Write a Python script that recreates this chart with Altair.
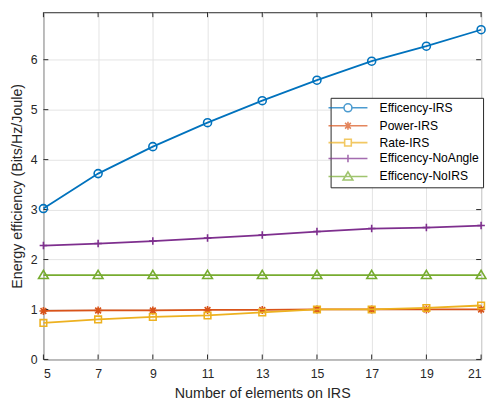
import altair as alt
import pandas as pd

# ---------------- data ----------------
n_elements = [5, 7, 9, 11, 13, 15, 17, 19, 21]
eff_irs = [3.02, 3.72, 4.26, 4.74, 5.18, 5.59, 5.97, 6.27, 6.60]
power_irs = [0.97, 0.98, 0.98, 0.99, 0.99, 1.00, 1.00, 1.00, 1.00]
rate_irs = [0.73, 0.80, 0.85, 0.88, 0.94, 1.00, 1.00, 1.03, 1.08]
eff_noangle = [2.28, 2.32, 2.37, 2.43, 2.49, 2.56, 2.62, 2.64, 2.68]
eff_noirs = [1.69, 1.69, 1.69, 1.69, 1.69, 1.69, 1.69, 1.69, 1.69]

series_names = ["Efficency-IRS", "Power-IRS", "Rate-IRS",
                "Efficency-NoAngle", "Efficency-NoIRS"]
series_values = [eff_irs, power_irs, rate_irs, eff_noangle, eff_noirs]
series_colors = ["#0072BD", "#D95319", "#EDB120", "#7E2F8E", "#77AC30"]

x_ticks = [5, 7, 9, 11, 13, 15, 17, 19, 21]
y_ticks = [0, 1, 2, 3, 4, 5, 6]

# ---------------- marker shapes ----------------
circle = "M0.9,0A0.9,0.9 0 1,1 -0.9,0A0.9,0.9 0 1,1 0.9,0Z"
asterisk = "M-0.9,0H0.9M0,-0.9V0.9M-0.65,-0.65L0.65,0.65M-0.65,0.65L0.65,-0.65"
square = "M-0.75,-0.75H0.75V0.75H-0.75Z"
plus = "M-0.85,0H0.85M0,-0.85V0.85"
triangle = "M0,-1.05L1.1,0.8H-1.1Z"
marker_paths = [circle, asterisk, square, plus, triangle]
legend_paths = [
    "M-4.4,0H-0.9M0.9,0H4.4" + circle,
    "M-4.4,0H4.4" + asterisk,
    "M-4.4,0H-0.75M0.75,0H4.4" + square,
    "M-4.4,0H4.4" + plus,
    "M-4.4,0H4.4" + triangle,
]

rows = []
for name, vals in zip(series_names, series_values):
    for xv, yv in zip(n_elements, vals):
        rows.append({"N": xv, "EE": yv, "series": name})
df = pd.DataFrame(rows)

xt_df = pd.DataFrame({"N": x_ticks})
yt_df = pd.DataFrame({"EE": y_ticks})

W, H = 445, 353
FONT = "Liberation Sans"
DARK = "#262626"

xscale = alt.Scale(domain=[5, 21], nice=False, zero=False)
yscale = alt.Scale(domain=[0, 6.95], nice=False)

x_axis = alt.Axis(values=x_ticks, title="Number of elements on IRS", grid=True,
                  tickSize=0, domain=False, labelPadding=8, labelFontSize=12.5,
                  titleFontSize=14.5, titleY=35, titleBaseline="middle")
y_axis = alt.Axis(values=y_ticks, title="Energy efficiency (Bits/Hz/Joule)", grid=True,
                  tickSize=0, domain=False, labelPadding=6.5, labelFontSize=12.5,
                  titleFontSize=14.5, titleX=-26, titleY=H / 2, titleAngle=-90,
                  titleAlign="center", titleBaseline="middle")

X = alt.X("N:Q", scale=xscale, axis=x_axis)
Y = alt.Y("EE:Q", scale=yscale, axis=y_axis)

base = alt.Chart(df)

# empty layer providing the legend
legend_kw = dict(title=None, orient="none", legendX=292, legendY=87,
                 symbolSize=81, symbolStrokeWidth=1.6, symbolOffset=7.5,
                 labelOffset=26, labelFontSize=12.3, labelFont=FONT,
                 labelColor="#000000", padding=4, rowPadding=2.2,
                 strokeColor=DARK, fillColor="#ffffff")
legend_layer = base.mark_point(filled=False, strokeWidth=1.6, size=81).encode(
    x=X, y=Y,
    color=alt.Color("series:N", scale=alt.Scale(domain=series_names, range=series_colors),
                    legend=alt.Legend(**legend_kw)),
    shape=alt.Shape("series:N", scale=alt.Scale(domain=series_names, range=legend_paths),
                    legend=alt.Legend(**legend_kw)),
).transform_filter("false")

layers = []
for name, col, path in zip(series_names, series_colors, marker_paths):
    sub = base.transform_filter(alt.datum.series == name)
    line = sub.mark_line(color=col, strokeWidth=1.8).encode(x=X, y=Y)
    pts = sub.mark_point(shape=path, color=col, filled=False, strokeWidth=1.6, size=81,
                         opacity=1).encode(x=X, y=Y)
    layers += [line, pts]

# inward tick marks on all four sides
tx = alt.Chart(xt_df)
ty = alt.Chart(yt_df)
tick_layers = [
    tx.mark_rule(color=DARK, strokeWidth=1).encode(x=X, y=alt.value(H), y2=alt.value(H - 5)),
    tx.mark_rule(color=DARK, strokeWidth=1).encode(x=X, y=alt.value(0), y2=alt.value(5)),
    ty.mark_rule(color=DARK, strokeWidth=1).encode(y=Y, x=alt.value(0), x2=alt.value(5)),
    ty.mark_rule(color=DARK, strokeWidth=1).encode(y=Y, x=alt.value(W), x2=alt.value(W - 5)),
]

chart = alt.layer(*tick_layers, *layers, legend_layer).properties(
    width=W, height=H,
    autosize=alt.AutoSizeParams(type="none"),
    padding={"left": 36, "top": 1, "right": 6, "bottom": 43},
    background="#ffffff",
).configure_view(
    stroke=DARK, strokeWidth=1,
).configure_axis(
    labelFont=FONT, titleFont=FONT, labelColor=DARK, titleColor=DARK,
    titleFontWeight="normal", gridColor="#e3e3e3", gridWidth=1,
)

chart.save("out.html", embed_options={"renderer": "svg", "actions": False})
